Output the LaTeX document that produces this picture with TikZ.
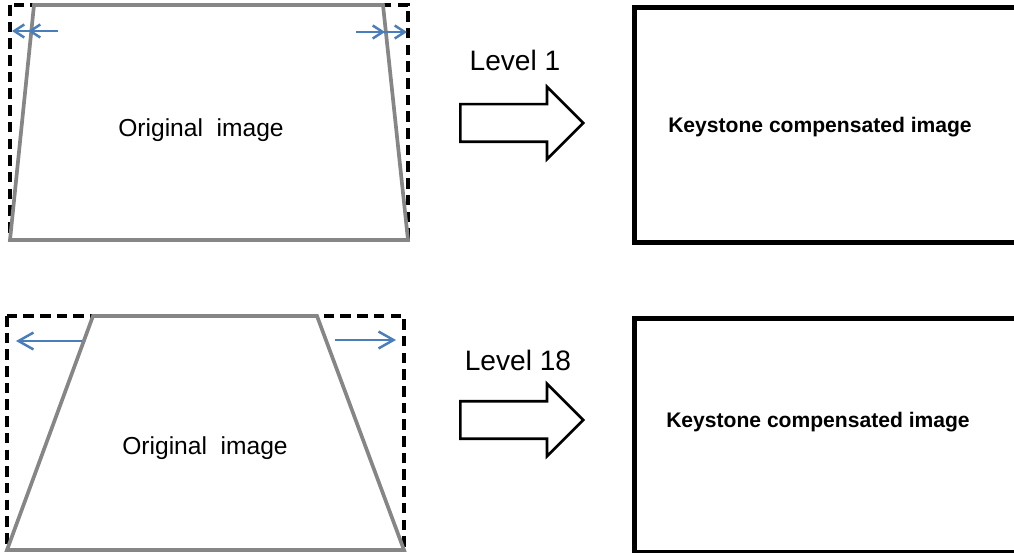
\documentclass[tikz,border=0pt]{standalone}
\usepackage{fontspec}
\setmainfont{Liberation Sans}
\usetikzlibrary{arrows.meta,shapes.arrows}
\definecolor{trapgray}{RGB}{134,134,134}
\definecolor{shiftblue}{RGB}{74,126,187}

\begin{document}
\begin{tikzpicture}[
x=0.02cm,y=-0.02cm,
frame/.style={draw=black,line width=2.2pt,dash pattern=on 6pt off 3.5pt},
trap/.style={draw=trapgray,line width=2.1pt,line join=miter},
shiftsmall/.style={draw=shiftblue,line width=1.4pt,-{Straight Barb[length=5.7pt,width=7.4pt]}},
shiftbig/.style={draw=shiftblue,line width=1.4pt,-{Straight Barb[length=8.5pt,width=9.6pt]}},
outbox/.style={draw,line width=2.6pt,minimum width=8cm,minimum height=4.7cm,anchor=north west,inner sep=0pt},
bigarrow/.style={single arrow,draw,line width=1.5pt,inner xsep=0pt,inner ysep=0.35cm,anchor=tail,
  minimum height=2.46cm,single arrow head extend=0.35cm},
lvl/.style={anchor=base,font=\fontsize{16}{19}\selectfont},
orig/.style={anchor=base,font=\fontsize{14}{17}\selectfont},
comp/.style={anchor=base,font=\fontsize{12}{14}\selectfont\bfseries}
]
\useasboundingbox (0,0) rectangle (1014,553);

% Level 1
\draw[frame] (10,5) rectangle (408,240);
\draw[trap] (34,5) -- (383,5) -- (408,240) -- (10,240) -- cycle;
\node[orig] (orig1) at (201,137) {Original\ \ image};

\coordinate (l1s) at (58,31);
\coordinate (l1a) at (28,31);
\coordinate (l1b) at (12,31);
\coordinate (r1s) at (356,32);
\coordinate (r1a) at (385,32);
\coordinate (r1b) at (407,32);
\draw[shiftsmall] (l1s) -- (l1a);
\draw[shiftsmall] (l1s) -- (l1b);
\draw[shiftsmall] (r1s) -- (r1a);
\draw[shiftsmall] (r1s) -- (r1b);

\node[lvl] (lvl1) at (515,71) {Level 1};
\node[bigarrow] (go1) at (459,123) {};

\node[outbox] (out1) at (632,5) {};
\node[comp] (comp1) at (820,133) {Keystone compensated image};

% Level 18
\draw[frame] (7,316) rectangle (404,550);
\draw[trap] (93,316) -- (317,316) -- (404,550) -- (7,550) -- cycle;
\node[orig] (orig18) at (205,455) {Original\ \ image};

\coordinate (l18s) at (82,341);
\coordinate (l18b) at (16,341);
\coordinate (r18s) at (335,340);
\coordinate (r18b) at (396,340);
\draw[shiftbig] (l18s) -- (l18b);
\draw[shiftbig] (r18s) -- (r18b);

\node[lvl] (lvl18) at (518,371) {Level 18};
\node[bigarrow] (go18) at (459,420) {};

\node[outbox,minimum height=4.68cm] (out18) at (632,316) {};
\node[comp] (comp18) at (818,428) {Keystone compensated image};

\end{tikzpicture}
\end{document}
